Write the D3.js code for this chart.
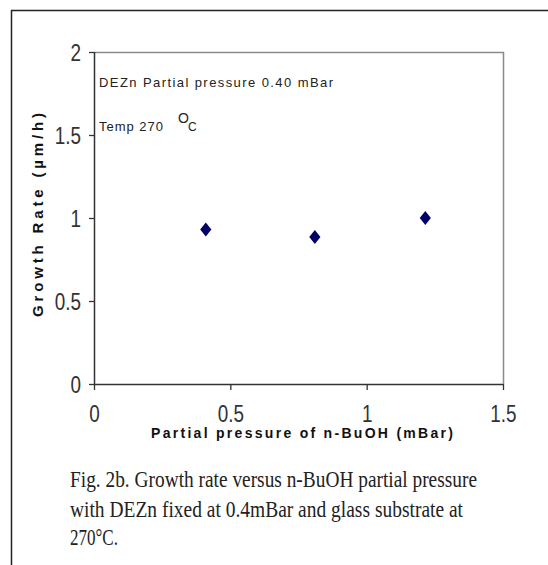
<!DOCTYPE html>
<html>
<head>
<meta charset="utf-8">
<script src="https://cdn.jsdelivr.net/npm/d3@7"></script>
<style>
html,body{margin:0;padding:0;background:#fff;}
svg{display:block;}
</style>
</head>
<body>
<script>
// ---- data ----
const pressureBuOH = [0.41, 0.81, 1.215];
const growthRate = [0.93, 0.885, 1.0];
const xTickValues = [0, 0.5, 1, 1.5];
const yTickValues = [0, 0.5, 1, 1.5, 2];
const xTitle = "Partial pressure of n-BuOH (mBar)";
const yTitle = "Growth Rate (µm/h)";
const note1 = "DEZn Partial pressure 0.40 mBar";
const note2 = "Temp 270";
const captionLines = [
  "Fig. 2b. Growth rate versus n-BuOH partial pressure",
  "with DEZn fixed at 0.4mBar and glass substrate at",
  "270°C."
];

const W = 548, H = 565;
const m = {left: 94, top: 52, right: 503, bottom: 384};

const svg = d3.select("body").append("svg").attr("width", W).attr("height", H);

// outer frame (top and left)
svg.append("line").attr("x1", 11).attr("y1", 10.5).attr("x2", W).attr("y2", 10.5)
  .attr("stroke", "#222").attr("stroke-width", 1.5);
svg.append("line").attr("x1", 11.5).attr("y1", 10).attr("x2", 11.5).attr("y2", H)
  .attr("stroke", "#222").attr("stroke-width", 1.5);

const x = d3.scaleLinear().domain([0, 1.5]).range([m.left, m.right]);
const y = d3.scaleLinear().domain([0, 2]).range([m.bottom, m.top]);

// plot border top/right (gray)
svg.append("path")
  .attr("d", `M${m.left},${m.top + 0.5}H${m.right + 0.5}V${m.bottom}`)
  .attr("fill", "none").attr("stroke", "#8a8a8a").attr("stroke-width", 1.5);

const fmt = d => d3.format("")(d);

// x axis
const gx = svg.append("g").attr("transform", `translate(0,${m.bottom})`)
  .call(d3.axisBottom(x).tickValues(xTickValues).tickSize(6).tickPadding(14).tickFormat(fmt));
// y axis
const gy = svg.append("g").attr("transform", `translate(${m.left},0)`)
  .call(d3.axisLeft(y).tickValues(yTickValues).tickSize(5).tickPadding(8).tickFormat(fmt));

[gx, gy].forEach(g => {
  g.select(".domain").attr("stroke", "#333").attr("stroke-width", 1.5);
  g.selectAll(".tick line").attr("stroke", "#333").attr("stroke-width", 1.3);
});
gx.select(".domain").attr("d", `M${m.left},0.5H${m.right}`);
gy.select(".domain").attr("d", `M0.5,${m.top}V${m.bottom}`);

// tick labels: narrow, tall glyphs like the reference
const tickFont = "Arial, 'Liberation Sans', sans-serif";
gx.selectAll(".tick text")
  .attr("y", null).attr("dy", null)
  .attr("transform", "translate(0,38) scale(0.9,1.12)")
  .attr("fill", "#333").style("font-family", tickFont).style("font-size", "21px");
gy.selectAll(".tick text")
  .attr("x", null).attr("dy", null)
  .attr("transform", "translate(-13,8) scale(0.9,1.12)")
  .attr("fill", "#333").style("font-family", tickFont).style("font-size", "21px");

// axis titles
svg.append("text").attr("x", 151).attr("y", 438)
  .attr("textLength", 302).attr("lengthAdjust", "spacing")
  .style("font-family", "Arial, 'Liberation Sans', sans-serif")
  .style("font-weight", "bold").style("font-size", "14px").attr("fill", "#111")
  .text(xTitle);

svg.append("text")
  .attr("transform", "translate(43,215) rotate(-90)")
  .attr("text-anchor", "middle")
  .attr("textLength", 204).attr("lengthAdjust", "spacing")
  .style("font-family", "Arial, 'Liberation Sans', sans-serif")
  .style("font-weight", "bold").style("font-size", "15px").attr("fill", "#111")
  .text(yTitle);

// annotations
const annFont = "Arial, 'Liberation Sans', sans-serif";
svg.append("text").attr("x", 99).attr("y", 87)
  .attr("textLength", 234).attr("lengthAdjust", "spacing")
  .style("font-family", annFont).style("font-size", "13px").attr("fill", "#222")
  .text(note1);
svg.append("text").attr("x", 99).attr("y", 131)
  .attr("textLength", 64).attr("lengthAdjust", "spacing")
  .style("font-family", annFont).style("font-size", "13px").attr("fill", "#222")
  .text(note2);
svg.append("text").attr("x", 178).attr("y", 123)
  .style("font-family", annFont).style("font-size", "14px").attr("fill", "#222")
  .text("O");
svg.append("text").attr("x", 188).attr("y", 131)
  .style("font-family", annFont).style("font-size", "12px").attr("fill", "#222")
  .text("C");

// markers
const diamond = d3.symbol().type(d3.symbolDiamond2).size(125);
svg.append("g").selectAll("path")
  .data(pressureBuOH.map((p, i) => [p, growthRate[i]]))
  .join("path")
  .attr("d", diamond)
  .attr("transform", d => `translate(${x(d[0])},${y(d[1])}) scale(0.8,1)`)
  .attr("fill", "#000066");

// caption
const capLens = [407, 393, 48];
const capY = [487, 517, 545];
captionLines.forEach((t, i) => {
  svg.append("text")
    .attr("transform", `translate(70,${capY[i]}) scale(1,1.25)`)
    .attr("textLength", capLens[i]).attr("lengthAdjust", "spacingAndGlyphs")
    .style("font-family", "'Times New Roman', 'Liberation Serif', serif")
    .style("font-size", "19px").attr("fill", "#222")
    .text(t);
});
</script>
</body>
</html>
